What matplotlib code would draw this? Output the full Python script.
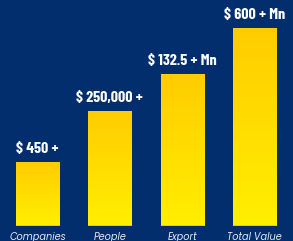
import matplotlib.pyplot as plt
import numpy as np
from matplotlib.colors import LinearSegmentedColormap

categories = ['Companies', 'People', 'Export', 'Total Value']
value_labels = ['$ 450 +', '$ 250,000 +', '$ 132.5 + Mn', '$ 600 + Mn']
# bar heights as drawn (not to scale with the labels)
heights = [64, 115, 152, 198]

bg = '#032e6e'
fig = plt.figure(figsize=(2.93, 2.41), dpi=100, facecolor=bg)
ax = fig.add_axes([1.3 / 293, 15 / 241, 289.4 / 293, 220 / 241])
ax.set_facecolor(bg)
ax.axis('off')

cmap = LinearSegmentedColormap.from_list('gold', ['#ffef00', '#ffcc00'])
x = np.arange(len(categories))
bars = ax.bar(x, heights, width=0.595, color='none', edgecolor='none')

grad = np.linspace(0, 1, 256).reshape(-1, 1)
for b, h in zip(bars, heights):
    x0 = b.get_x()
    im = ax.imshow(grad, cmap=cmap, aspect='auto', origin='lower',
                   extent=[x0, x0 + b.get_width(), 0, h], zorder=2)
    im.set_clip_path(b)
    ax.plot([x0 - 0.02, x0 + b.get_width() + 0.02], [0, 0], color='#2a5aa8', lw=1, zorder=3)

ax.set_xlim(-0.5, 3.5)
ax.set_ylim(0, 220)

for xi, h, lab in zip(x, heights, value_labels):
    ax.text(xi, h + 6, lab, ha='center', va='bottom', color='white',
            fontsize=11.5, fontweight='bold',
            family=['Barlow Condensed', 'DejaVu Sans'])

for xi, cat in zip(x, categories):
    ax.text(xi, -14, cat, ha='center', va='baseline', color='#e6e9f2',
            fontsize=7, style='italic',
            family=['Poppins', 'Lato', 'DejaVu Sans'])

fig.savefig('out.png', dpi=100, facecolor=bg)
